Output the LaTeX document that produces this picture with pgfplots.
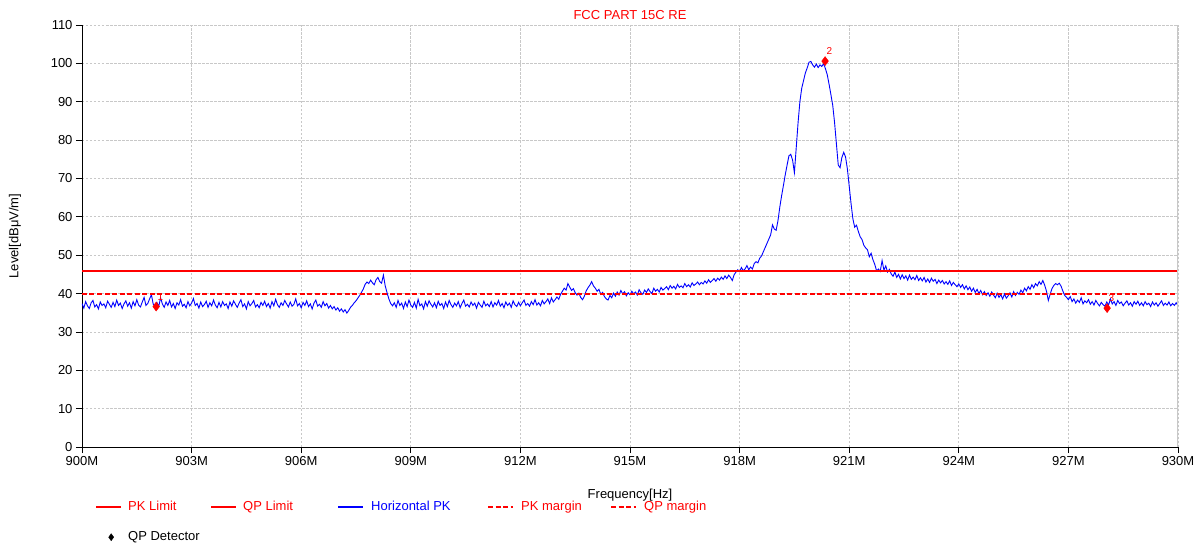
\documentclass[border=0pt]{standalone}
\usepackage{pgfplots}
\pgfplotsset{compat=1.18}
\usepackage{fontspec}
\setmainfont{Liberation Sans}
\definecolor{fccred}{RGB}{255,0,0}
\definecolor{fccblue}{RGB}{0,0,255}
\definecolor{gridgray}{RGB}{200,200,200}
\tikzset{
  limitline/.style={color=red, line width=2bp},
  marginline/.style={color=red, line width=2bp, dash pattern=on 5bp off 2.5bp},
}

\begin{document}
\begin{tikzpicture}[font=\fontsize{13bp}{15bp}\selectfont]
\begin{axis}[
  name=ax,
  scale only axis,
  width=1096bp, height=422bp,
  xmin=900, xmax=930, ymin=0, ymax=110,
  xtick={900,903,...,930},
  xticklabels={900M,903M,906M,909M,912M,915M,918M,921M,924M,927M,930M},
  ytick={0,10,...,110},
  /pgf/number format/assume math mode=true,
  axis x line*=bottom, axis y line*=left,
  axis line style={black, line width=0.8bp},
  tick align=outside,
  major tick length=6bp,
  tick style={black, line width=0.8bp},
  grid=major,
  major grid style={gridgray, dash pattern={on 2.5bp off 1.5bp}, line width=0.7bp},
  title={FCC PART 15C RE},
  title style={fccred, font=\fontsize{13bp}{15bp}\selectfont, at={(axis description cs:0.5,1)}, anchor=base, yshift=-0.5bp, inner sep=0pt},
  xlabel={Frequency[Hz]},
  xlabel style={at={(axis description cs:0.5,0)}, anchor=center, yshift=-48bp},
  ylabel={Level[dBμV/m]},
  ylabel style={at={(axis description cs:-0.0611,0.5)}, anchor=center},
  legend style={draw=none, fill=none, at={(axis description cs:0,0)}, anchor=north west,
    xshift=13bp, yshift=-53.5bp, inner sep=0pt, column sep=0pt, row sep=17bp,
    nodes={inner sep=0pt, text height=10bp, text depth=3bp}},
  legend cell align=left,
  legend columns=5,
]
\addlegendimage{legend image code/.code={\draw[limitline] (0,0) -- (25bp,0); \path[draw=none] (0,0) -- (32bp,0);}}
\addlegendentry{\textcolor{fccred}{\makebox[82bp][l]{PK Limit}}}
\addlegendimage{legend image code/.code={\draw[limitline] (0,0) -- (25bp,0); \path[draw=none] (0,0) -- (32bp,0);}}
\addlegendentry{\textcolor{fccred}{\makebox[94bp][l]{QP Limit}}}
\addlegendimage{legend image code/.code={\draw[draw=fccblue, line width=2bp] (0,0) -- (25bp,0); \path[draw=none] (0,0) -- (33bp,0);}}
\addlegendentry{\textcolor{fccblue}{\makebox[116bp][l]{Horizontal PK}}}
\addlegendimage{legend image code/.code={\draw[marginline] (0,0) -- (25bp,0); \path[draw=none] (0,0) -- (33bp,0);}}
\addlegendentry{\textcolor{fccred}{\makebox[89bp][l]{PK margin}}}
\addlegendimage{legend image code/.code={\draw[marginline] (0,0) -- (25bp,0); \path[draw=none] (0,0) -- (33bp,0);}}
\addlegendentry{\textcolor{fccred}{QP margin}}
\addlegendimage{legend image code/.code={\path[draw=none] (0,0) -- (32bp,0); \fill[black] (15bp,3.5bp) -- (17.5bp,0) -- (15bp,-3.5bp) -- (12.5bp,0) -- cycle;}}
\addlegendentry{QP Detector}

\addplot[forget plot, draw=fccblue, line width=0.9bp] coordinates {
(900.00,37.4)(900.05,36.2)(900.10,37.9)(900.15,36.8)(900.20,36.1)(900.25,37.6)(900.30,38.2)(900.35,36.5)(900.40,37.1)(900.45,36.0)
(900.50,37.8)(900.55,36.9)(900.60,37.3)(900.65,36.3)(900.70,38.0)(900.75,37.2)(900.80,36.4)(900.85,37.7)(900.90,36.6)(900.95,38.3)
(901.00,36.9)(901.05,37.5)(901.10,36.1)(901.15,37.3)(901.20,38.1)(901.25,36.7)(901.30,37.6)(901.35,36.2)(901.40,37.9)(901.45,36.8)
(901.50,38.4)(901.55,37.0)(901.60,36.5)(901.65,37.8)(901.70,39.0)(901.75,36.9)(901.80,37.4)(901.85,38.6)(901.90,39.7)(901.95,37.2)
(902.00,36.8)(902.05,37.7)(902.10,36.6)(902.15,38.9)(902.20,37.3)(902.25,36.4)(902.30,37.8)(902.35,36.9)(902.40,38.2)(902.45,36.5)
(902.50,37.4)(902.55,36.1)(902.60,37.6)(902.65,37.0)(902.70,38.4)(902.75,36.7)(902.80,37.2)(902.85,36.3)(902.90,37.9)(902.95,36.8)
(903.00,37.5)(903.05,38.7)(903.10,36.9)(903.15,37.4)(903.20,36.2)(903.25,37.8)(903.30,36.6)(903.35,37.1)(903.40,38.0)(903.45,36.4)
(903.50,37.6)(903.55,36.8)(903.60,38.3)(903.65,37.0)(903.70,36.3)(903.75,37.7)(903.80,36.5)(903.85,37.9)(903.90,36.9)(903.95,37.3)
(904.00,36.1)(904.05,37.8)(904.10,36.7)(904.15,38.1)(904.20,37.2)(904.25,36.4)(904.30,37.5)(904.35,38.4)(904.40,36.6)(904.45,37.3)
(904.50,36.0)(904.55,37.9)(904.60,36.8)(904.65,37.4)(904.70,38.2)(904.75,36.5)(904.80,37.1)(904.85,36.3)(904.90,37.7)(904.95,36.9)
(905.00,38.0)(905.05,36.6)(905.10,37.4)(905.15,36.2)(905.20,37.9)(905.25,36.8)(905.30,38.5)(905.35,37.1)(905.40,36.4)(905.45,37.6)
(905.50,36.9)(905.55,38.2)(905.60,37.3)(905.65,36.5)(905.70,37.8)(905.75,36.7)(905.80,37.2)(905.85,38.6)(905.90,36.8)(905.95,37.4)
(906.00,36.3)(906.05,37.7)(906.10,36.9)(906.15,38.1)(906.20,36.6)(906.25,37.3)(906.30,36.0)(906.35,37.5)(906.40,38.3)(906.45,36.7)
(906.50,37.2)(906.55,36.4)(906.60,37.9)(906.65,36.8)(906.70,37.4)(906.75,36.2)(906.80,36.9)(906.85,36.0)(906.90,36.6)(906.95,35.7)
(907.00,36.3)(907.05,35.4)(907.10,36.0)(907.15,35.2)(907.20,35.8)(907.25,34.9)(907.30,35.6)(907.35,36.4)(907.40,36.9)(907.45,37.6)
(907.50,38.1)(907.55,38.8)(907.60,39.5)(907.65,40.3)(907.70,41.2)(907.75,42.4)(907.80,43.0)(907.85,42.6)(907.90,43.5)(907.95,42.8)
(908.00,42.3)(908.05,43.6)(908.10,44.2)(908.15,43.1)(908.20,42.7)(908.25,44.8)(908.30,42.0)(908.35,40.2)(908.40,38.6)(908.45,37.4)
(908.50,36.8)(908.55,37.6)(908.60,36.4)(908.65,38.2)(908.70,36.9)(908.75,37.5)(908.80,36.1)(908.85,37.8)(908.90,36.6)(908.95,38.3)
(909.00,37.0)(909.05,36.4)(909.10,37.7)(909.15,36.2)(909.20,38.5)(909.25,36.8)(909.30,37.3)(909.35,36.0)(909.40,37.9)(909.45,36.7)
(909.50,38.1)(909.55,37.2)(909.60,36.5)(909.65,37.6)(909.70,36.3)(909.75,38.0)(909.80,36.9)(909.85,37.4)(909.90,36.1)(909.95,37.8)
(910.00,36.6)(910.05,38.2)(910.10,37.1)(910.15,36.4)(910.20,37.5)(910.25,36.8)(910.30,37.9)(910.35,36.3)(910.40,37.4)(910.45,38.3)
(910.50,36.7)(910.55,37.2)(910.60,36.5)(910.65,37.8)(910.70,36.9)(910.75,37.5)(910.80,36.2)(910.85,37.7)(910.90,37.0)(910.95,36.4)
(911.00,38.0)(911.05,36.8)(911.10,37.3)(911.15,36.6)(911.20,37.9)(911.25,36.5)(911.30,37.6)(911.35,37.0)(911.40,38.2)(911.45,36.7)
(911.50,37.4)(911.55,36.3)(911.60,37.8)(911.65,36.9)(911.70,37.5)(911.75,36.4)(911.80,38.1)(911.85,37.1)(911.90,36.6)(911.95,37.7)
(912.00,36.8)(912.05,37.6)(912.10,38.3)(912.15,36.9)(912.20,37.4)(912.25,36.7)(912.30,37.9)(912.35,37.1)(912.40,38.4)(912.45,37.0)
(912.50,37.6)(912.55,36.8)(912.60,38.2)(912.65,37.3)(912.70,37.9)(912.75,38.6)(912.80,37.4)(912.85,38.9)(912.90,37.8)(912.95,38.4)
(913.00,39.1)(913.05,38.5)(913.10,39.8)(913.15,40.6)(913.20,41.4)(913.25,40.9)(913.30,42.6)(913.35,41.7)(913.40,40.8)(913.45,41.3)
(913.50,40.2)(913.55,39.6)(913.60,40.1)(913.65,39.0)(913.70,38.4)(913.75,39.3)(913.80,40.7)(913.85,41.5)(913.90,42.2)(913.95,43.1)
(914.00,42.0)(914.05,41.4)(914.10,40.6)(914.15,41.1)(914.20,39.8)(914.25,40.3)(914.30,39.2)(914.35,38.6)(914.40,38.3)(914.45,39.5)
(914.50,38.9)(914.55,40.1)(914.60,39.3)(914.65,40.4)(914.70,39.6)(914.75,40.8)(914.80,39.9)(914.85,40.5)(914.90,39.4)(914.95,40.2)
(915.00,39.7)(915.05,40.6)(915.10,39.9)(915.15,40.4)(915.20,39.6)(915.25,41.0)(915.30,40.2)(915.35,39.8)(915.40,40.9)(915.45,40.3)
(915.50,41.2)(915.55,40.5)(915.60,40.0)(915.65,41.4)(915.70,40.6)(915.75,41.1)(915.80,40.4)(915.85,41.6)(915.90,40.9)(915.95,41.3)
(916.00,41.8)(916.05,41.0)(916.10,42.1)(916.15,41.4)(916.20,41.9)(916.25,41.2)(916.30,42.4)(916.35,41.6)(916.40,42.0)(916.45,41.5)
(916.50,42.6)(916.55,41.8)(916.60,42.3)(916.65,41.7)(916.70,42.8)(916.75,42.1)(916.80,42.5)(916.85,43.0)(916.90,42.3)(916.95,42.9)
(917.00,42.5)(917.05,43.3)(917.10,42.7)(917.15,43.6)(917.20,42.9)(917.25,43.4)(917.30,43.9)(917.35,43.2)(917.40,44.0)(917.45,43.5)
(917.50,44.3)(917.55,43.7)(917.60,44.6)(917.65,43.9)(917.70,44.8)(917.75,44.2)(917.80,43.4)(917.85,44.9)(917.90,45.6)(917.95,46.2)
(918.00,45.7)(918.05,46.8)(918.10,45.9)(918.15,46.4)(918.20,47.3)(918.25,46.2)(918.30,46.9)(918.35,46.4)(918.40,47.8)(918.45,48.3)
(918.50,48.0)(918.55,49.2)(918.60,49.8)(918.65,50.9)(918.70,52.0)(918.75,53.1)(918.80,54.2)(918.85,55.3)(918.90,57.9)(918.95,56.8)
(919.00,56.5)(919.05,59.0)(919.10,62.5)(919.15,65.5)(919.20,68.2)(919.25,71.0)(919.30,73.5)(919.35,75.9)(919.40,76.3)(919.45,74.8)
(919.50,71.5)(919.55,78.0)(919.60,84.5)(919.65,90.0)(919.70,93.5)(919.75,95.5)(919.80,97.5)(919.85,98.8)(919.90,100.3)(919.95,100.5)
(920.00,99.6)(920.05,99.0)(920.10,99.8)(920.15,98.9)(920.20,99.6)(920.25,99.2)(920.30,99.9)(920.35,98.6)(920.40,97.0)(920.45,94.5)
(920.50,91.8)(920.55,89.0)(920.60,84.5)(920.65,79.0)(920.70,73.5)(920.75,72.8)(920.80,75.5)(920.85,76.8)(920.90,75.6)(920.95,72.5)
(921.00,68.0)(921.05,63.5)(921.10,59.5)(921.15,57.3)(921.20,57.8)(921.25,56.2)(921.30,54.8)(921.35,54.1)(921.40,52.6)(921.45,51.9)
(921.50,51.4)(921.55,49.6)(921.60,50.5)(921.65,48.8)(921.70,47.6)(921.75,45.9)(921.80,46.4)(921.85,45.8)(921.90,48.6)(921.95,46.1)
(922.00,47.2)(922.05,45.6)(922.10,46.3)(922.15,45.1)(922.20,44.5)(922.25,45.6)(922.30,44.2)(922.35,45.0)(922.40,43.8)(922.45,44.9)
(922.50,43.9)(922.55,44.6)(922.60,43.5)(922.65,44.8)(922.70,43.7)(922.75,44.3)(922.80,43.6)(922.85,44.7)(922.90,43.4)(922.95,44.1)
(923.00,43.3)(923.05,44.2)(923.10,43.0)(923.15,43.8)(923.20,42.9)(923.25,44.0)(923.30,43.2)(923.35,43.7)(923.40,42.6)(923.45,43.5)
(923.50,42.8)(923.55,43.4)(923.60,42.5)(923.65,43.1)(923.70,42.4)(923.75,43.3)(923.80,42.1)(923.85,42.9)(923.90,42.3)(923.95,41.8)
(924.00,42.5)(924.05,41.6)(924.10,42.3)(924.15,41.2)(924.20,42.0)(924.25,41.0)(924.30,41.7)(924.35,40.6)(924.40,41.4)(924.45,40.3)
(924.50,41.1)(924.55,40.0)(924.60,40.8)(924.65,39.7)(924.70,40.5)(924.75,39.5)(924.80,40.2)(924.85,39.3)(924.90,40.4)(924.95,39.6)
(925.00,38.9)(925.05,40.1)(925.10,39.0)(925.15,39.7)(925.20,38.6)(925.25,39.9)(925.30,38.8)(925.35,39.4)(925.40,40.2)(925.45,39.1)
(925.50,40.5)(925.55,39.5)(925.60,40.3)(925.65,39.8)(925.70,40.9)(925.75,40.2)(925.80,41.4)(925.85,40.7)(925.90,41.8)(925.95,41.1)
(926.00,42.3)(926.05,41.5)(926.10,42.6)(926.15,42.0)(926.20,43.1)(926.25,42.4)(926.30,43.4)(926.35,42.2)(926.40,40.6)(926.45,38.2)
(926.50,39.8)(926.55,41.3)(926.60,42.1)(926.65,42.6)(926.70,42.3)(926.75,42.7)(926.80,41.9)(926.85,40.6)(926.90,39.5)(926.95,39.0)
(927.00,38.4)(927.05,39.2)(927.10,37.9)(927.15,38.6)(927.20,37.5)(927.25,38.3)(927.30,37.7)(927.35,38.9)(927.40,37.3)(927.45,38.1)
(927.50,37.6)(927.55,38.4)(927.60,37.2)(927.65,37.9)(927.70,37.0)(927.75,38.2)(927.80,37.4)(927.85,36.8)(927.90,37.7)(927.95,37.1)
(928.00,36.7)(928.05,37.8)(928.10,37.0)(928.15,38.6)(928.20,37.3)(928.25,37.9)(928.30,36.9)(928.35,38.2)(928.40,37.4)(928.45,37.8)
(928.50,36.8)(928.55,37.5)(928.60,38.1)(928.65,37.0)(928.70,37.6)(928.75,36.7)(928.80,37.9)(928.85,37.2)(928.90,38.0)(928.95,36.9)
(929.00,37.6)(929.05,36.8)(929.10,37.9)(929.15,37.1)(929.20,37.5)(929.25,36.6)(929.30,37.8)(929.35,37.0)(929.40,37.6)(929.45,36.7)
(929.50,37.4)(929.55,38.1)(929.60,36.9)(929.65,37.5)(929.70,37.0)(929.75,37.8)(929.80,36.8)(929.85,37.4)(929.90,36.9)(929.95,37.6)
(930.00,36.8)
};
\addplot[forget plot, limitline] coordinates {(900,46) (930,46)};
\addplot[forget plot, limitline] coordinates {(900,46) (930,46)};
\addplot[forget plot, marginline] coordinates {(900,40) (930,40)};
\addplot[forget plot, only marks, mark=diamond*, mark size=4.5bp, color=fccred,
  mark options={draw=fccred, fill=fccred, solid},
  nodes near coords, point meta=explicit symbolic,
  every node near coord/.append style={text=fccred, font=\fontsize{10bp}{11bp}\selectfont, anchor=south west, xshift=-2bp, yshift=3bp}]
  coordinates {(902.03,36.6) [1] (920.34,100.6) [2] (928.06,36.2) [3]};
\draw[gridgray, line width=2bp] (rel axis cs:1,0) -- (rel axis cs:1,1);
\end{axis}
\path[use as bounding box] ([shift={(-82bp,-100bp)}]ax.south west) rectangle ([shift={(25bp,25bp)}]ax.north east);
\end{tikzpicture}
\end{document}
